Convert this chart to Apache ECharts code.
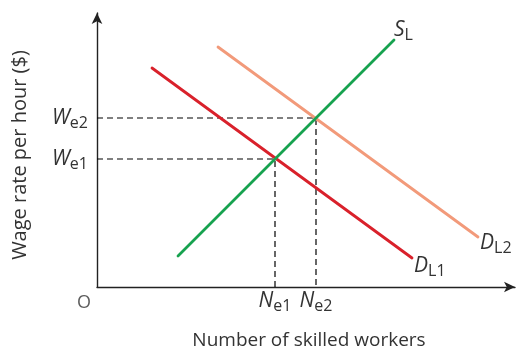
<!DOCTYPE html>
<html>
<head>
<meta charset="utf-8">
<script src="https://cdn.jsdelivr.net/npm/echarts@6/dist/echarts.min.js"></script>
<style>
  html, body { margin: 0; padding: 0; background: #fff; }
  #chart { width: 517px; height: 352px; }
</style>
</head>
<body>
<div id="chart"></div>
<script>
// Labour market for skilled workers: supply and two demand curves (abstract units)
const supplyCurve = [[81, 31], [297, 247]];
const demandCurve1 = [[55, 219], [315, 29]];
const demandCurve2 = [[121, 240], [381, 50]];

// Equilibrium wage rates and employment levels
const wageLevels = [128, 169];
const wageLabels = ['e1', 'e2'];
const workerLevels = [178, 219];
const workerLabels = ['e1', 'e2'];

const xMax = 418;
const yMax = 274;

const FONT = '"Open Sans", "Noto Sans", sans-serif';
const TEXT = '#333333';

const subRich = (main, sub) => '{i|' + main + '}{s|' + sub + '}';
const rich = {
  i: { fontFamily: FONT, fontSize: 21, fontStyle: 'italic', color: TEXT, lineHeight: 26, verticalAlign: 'middle' },
  s: { fontFamily: FONT, fontSize: 16, color: TEXT, lineHeight: 26, verticalAlign: 'bottom' }
};

const chart = echarts.init(document.getElementById('chart'), null, { renderer: 'canvas' });

const dashedGuides = wageLevels.map((w, k) => ({
  type: 'line',
  data: [[0, w], [workerLevels[k], w], [workerLevels[k], 0]],
  symbol: 'none',
  silent: true,
  z: 1,
  lineStyle: { color: '#000', width: 1.2, type: [6, 4] }
}));

function curve(data, color, labelMain, labelSub, offset) {
  return {
    type: 'line',
    data: data,
    symbol: 'none',
    z: 3,
    lineStyle: { color: color, width: 2.8, cap: 'round' },
    endLabel: {
      show: true,
      formatter: () => subRich(labelMain, labelSub),
      rich: rich,
      offset: offset,
      distance: 2
    }
  };
}

chart.setOption({
  animation: false,
  backgroundColor: '#fff',
  grid: { left: 97, right: 2, top: 13, bottom: 65, outerBoundsMode: 'none', containLabel: false },
  xAxis: {
    type: 'value',
    min: 0,
    max: xMax,
    name: 'Number of skilled workers',
    nameLocation: 'middle',
    nameGap: 44,
    nameTextStyle: { fontFamily: FONT, fontSize: 19, color: TEXT, padding: [0, 0, 0, 6] },
    axisLine: { show: true, symbol: ['none', 'arrow'], symbolSize: [8, 11], lineStyle: { color: '#222', width: 1.4 } },
    axisTick: { show: false },
    splitLine: { show: false },
    axisLabel: {
      customValues: workerLevels,
      margin: 1,
      formatter: (v) => subRich('N', workerLabels[workerLevels.indexOf(v)]),
      rich: rich
    }
  },
  yAxis: {
    type: 'value',
    min: 0,
    max: yMax,
    name: 'Wage rate per hour ($)',
    nameLocation: 'middle',
    nameGap: 67,
    nameRotate: 90,
    nameTextStyle: { fontFamily: FONT, fontSize: 20, color: TEXT, padding: [0, 10, 0, 0] },
    axisLine: { show: true, symbol: ['none', 'arrow'], symbolSize: [8, 11], lineStyle: { color: '#222', width: 1.4 } },
    axisTick: { show: false },
    splitLine: { show: false },
    axisLabel: {
      customValues: wageLevels,
      margin: 9,
      formatter: (v) => subRich('W', wageLabels[wageLevels.indexOf(v)]),
      rich: rich
    }
  },
  series: [
    ...dashedGuides,
    curve(demandCurve2, '#f29a7a', 'D', 'L2', [0, 6]),
    curve(demandCurve1, '#d9212b', 'D', 'L1', [0, 8]),
    curve(supplyCurve, '#17a24f', 'S', 'L', [-2, -10]),
    {
      // origin marker
      type: 'scatter',
      data: [[0, 0]],
      symbolSize: 0,
      silent: true,
      label: {
        show: true,
        position: 'left',
        formatter: 'O',
        distance: 6,
        offset: [0, 16],
        fontFamily: FONT,
        fontSize: 18,
        color: TEXT
      }
    }
  ]
});
</script>
</body>
</html>
